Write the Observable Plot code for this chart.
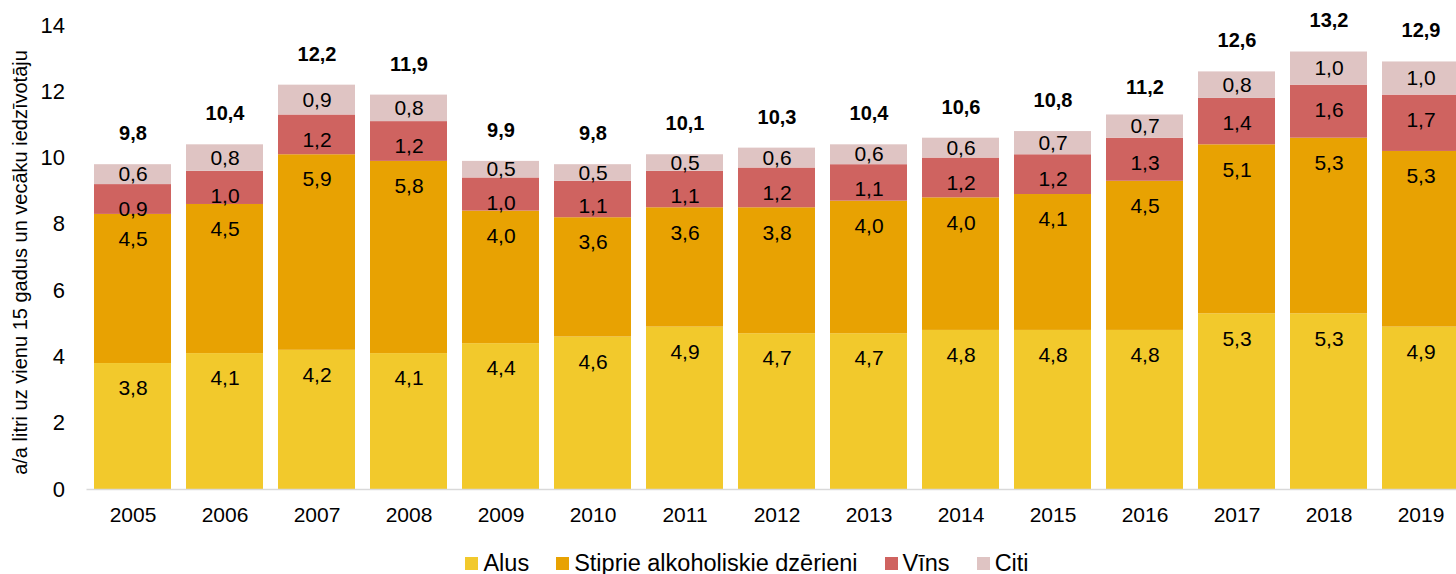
<!DOCTYPE html>
<html><head><meta charset="utf-8">
<script src="https://cdn.jsdelivr.net/npm/d3@7"></script>
<script src="https://cdn.jsdelivr.net/npm/@observablehq/plot@0.6"></script>
<style>
body{margin:0;background:#fff;font-family:"Liberation Sans",Arial,sans-serif;overflow:hidden;}
#legend{display:flex;justify-content:center;align-items:center;height:28px;margin-top:9px;padding-left:38px;font-size:23.5px;color:#000;}
.item{display:flex;align-items:center;margin:0 13.5px;}
.sw{width:13px;height:13px;margin-right:5px;}
</style></head><body>
<div id="chart"></div><div id="legend"></div>
<script>
const years = ["2005","2006","2007","2008","2009","2010","2011","2012","2013","2014","2015","2016","2017","2018","2019"];
const series = ["Alus","Stiprie alkoholiskie dzērieni","Vīns","Citi"];
const colors = ["#F2C92C","#E8A202","#CF6360","#DFC4C3"];
const alus    = [3.8,4.1,4.2,4.1,4.4,4.6,4.9,4.7,4.7,4.8,4.8,4.8,5.3,5.3,4.9];
const stiprie = [4.5,4.5,5.9,5.8,4.0,3.6,3.6,3.8,4.0,4.0,4.1,4.5,5.1,5.3,5.3];
const vins    = [0.9,1.0,1.2,1.2,1.0,1.1,1.1,1.2,1.1,1.2,1.2,1.3,1.4,1.6,1.7];
const citi    = [0.6,0.8,0.9,0.8,0.5,0.5,0.5,0.6,0.6,0.6,0.7,0.7,0.8,1.0,1.0];
const totals  = [9.8,10.4,12.2,11.9,9.9,9.8,10.1,10.3,10.4,10.6,10.8,11.2,12.6,13.2,12.9];
const yTicks = [0,2,4,6,8,10,12,14];
const yLabel = "a/a litri uz vienu 15 gadus un vecāku iedzīvotāju";

const values = [alus, stiprie, vins, citi];
const rows = [];
years.forEach((yr, i) => {
  let c = 0;
  values.forEach((arr, s) => {
    const v = arr[i];
    rows.push({year: yr, series: series[s], value: v, y1: c, y2: c + v, top: s < 3});
    c += v;
  });
});
const totalRows = years.map((yr, i) => ({year: yr, total: totals[i]}));
const fmt = v => v.toFixed(1).replace(".", ",");
const FONT = '"Liberation Sans", Arial, sans-serif';

const plot = Plot.plot({
  width: 1456, height: 540,
  marginLeft: 86.5, marginRight: 0, marginTop: 25, marginBottom: 51,
  style: {fontFamily: FONT, background: "white", overflow: "hidden", color: "#000"},
  x: {type: "band", domain: years, range: [86.5, 1466.5], paddingInner: 0.163, paddingOuter: 0.08},
  y: {domain: [0, 14]},
  color: {domain: series, range: colors},
  marks: [
    Plot.barY(rows, {x: "year", y1: "y1", y2: "y2", fill: "series"}),
    Plot.ruleY([0], {stroke: "#d9d9d9", strokeWidth: 1.5}),
    Plot.text(rows.filter(d => d.top), {x: "year", y: "y2", text: d => fmt(d.value), dy: 25, fontSize: 21, fill: "#000"}),
    Plot.text(rows.filter(d => !d.top), {x: "year", y: d => (d.y1 + d.y2) / 2, text: d => fmt(d.value), fontSize: 21, fill: "#000"}),
    Plot.text(totalRows, {x: "year", y: "total", text: d => fmt(d.total), dy: -31, fontWeight: "bold", fontSize: 20, fill: "#000"}),
    Plot.axisX({tickSize: 0, tickPadding: 18, fontSize: 21, label: null}),
    Plot.axisY({ticks: yTicks, tickSize: 0, tickPadding: 22, fontSize: 22, label: null, tickFormat: d => String(d)}),
    Plot.text([yLabel], {frameAnchor: "left", textAnchor: "middle", rotate: -90, dx: -66.5, dy: 5, fontSize: 20, fill: "#000"})
  ]
});
document.getElementById("chart").appendChild(plot);

const legend = document.getElementById("legend");
series.forEach((s, i) => {
  const item = document.createElement("div");
  item.className = "item";
  const sw = document.createElement("span");
  sw.className = "sw";
  sw.style.background = colors[i];
  const t = document.createElement("span");
  t.textContent = s;
  item.appendChild(sw); item.appendChild(t);
  legend.appendChild(item);
});
</script>
</body></html>
